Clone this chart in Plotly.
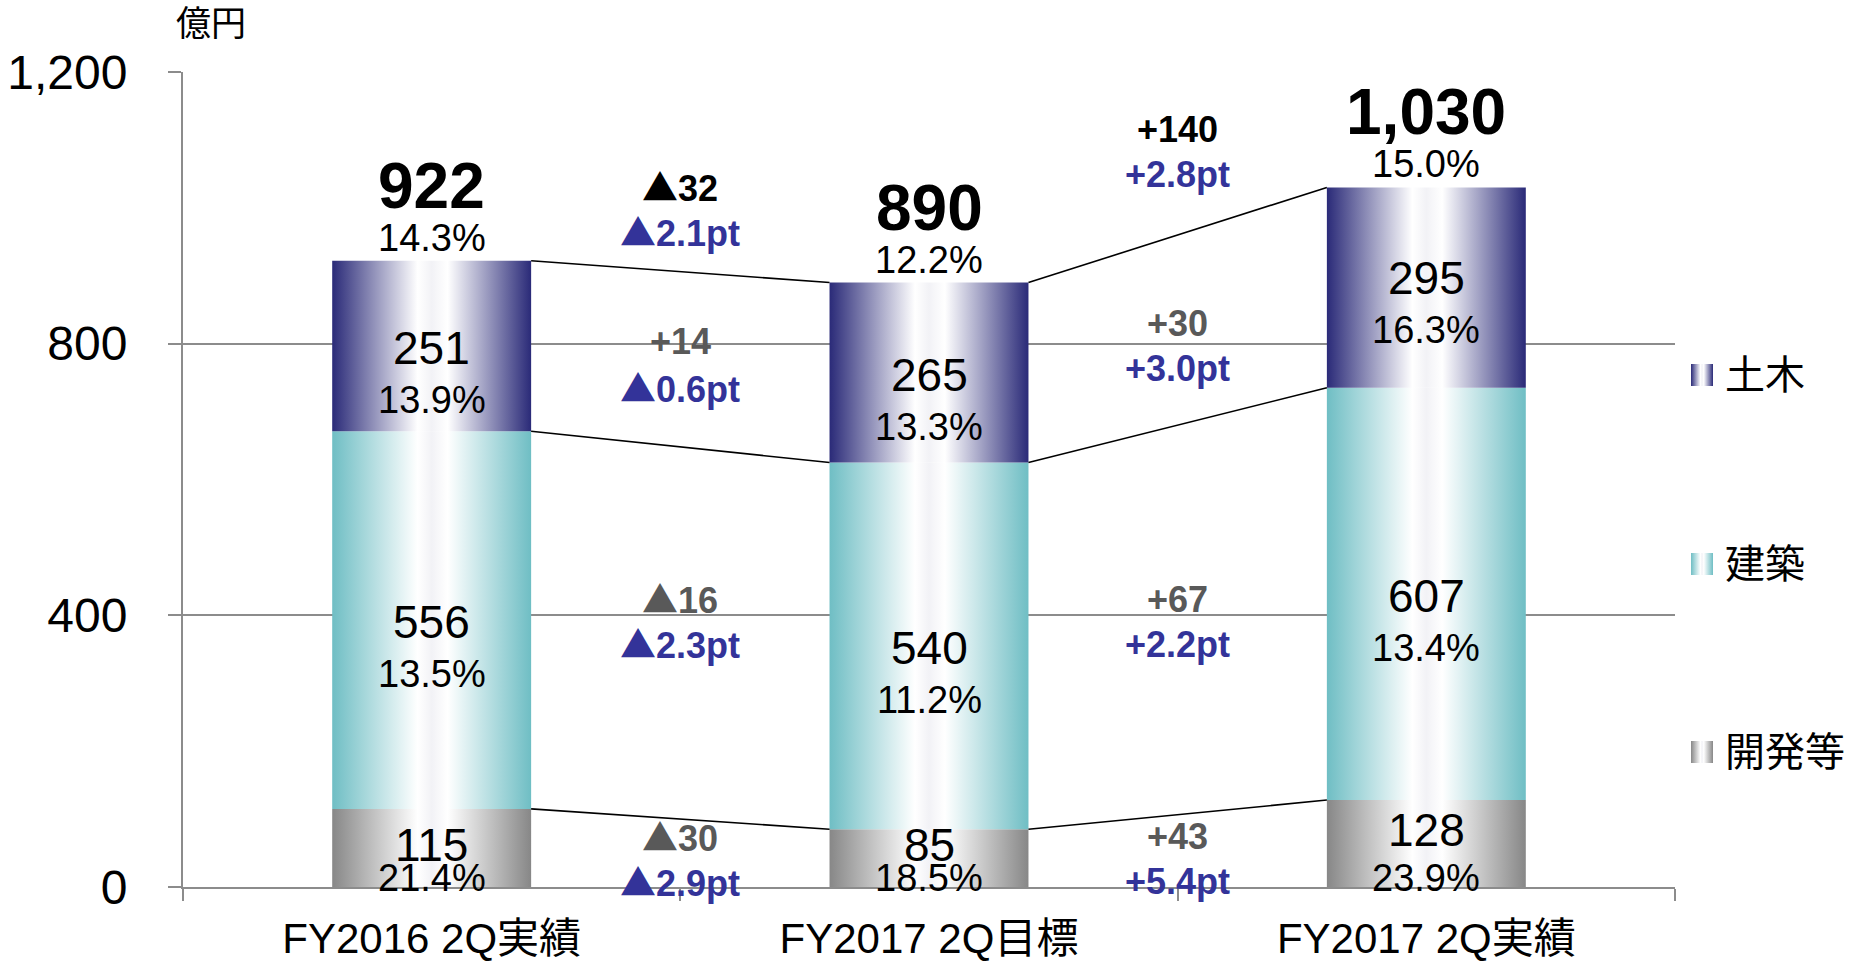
import plotly.graph_objects as go

# ---------------- data ----------------
categories = ["FY2016 2Q実績", "FY2017 2Q目標", "FY2017 2Q実績"]
series_names = ["開発等", "建築", "土木"]          # bottom -> top
kaihatsu = [115, 85, 128]
kenchiku = [556, 540, 607]
doboku = [251, 265, 295]
totals = [922, 890, 1030]
kaihatsu_pct = ["21.4%", "18.5%", "23.9%"]
kenchiku_pct = ["13.5%", "11.2%", "13.4%"]
doboku_pct = ["13.9%", "13.3%", "16.3%"]
total_pct = ["14.3%", "12.2%", "15.0%"]
diff_total = ["▲32", "+140"]
diff_total_pt = ["▲2.1pt", "+2.8pt"]
diff_doboku = ["+14", "+30"]
diff_doboku_pt = ["▲0.6pt", "+3.0pt"]
diff_kenchiku = ["▲16", "+67"]
diff_kenchiku_pt = ["▲2.3pt", "+2.2pt"]
diff_kaihatsu = ["▲30", "+43"]
diff_kaihatsu_pt = ["▲2.9pt", "+5.4pt"]
y_ticks = [0, 400, 800, 1200]
unit_label = "億円"

# ---------------- layout constants ----------------
W, H = 1861, 961
L, R, T, B = 183, 1861, 72, 887
PLOT_RIGHT = 1675
BAR_HALF = 0.2
FONT = "Liberation Sans, Arial, Noto Sans CJK JP, sans-serif"
TRI_FONT = "Noto Sans CJK JP"
GRID = "#8C8C8C"
BLUE = "#333399"
DGRAY = "#595959"
# label nudges (pixels, positive = up)
DIFF_SHIFT = [[18, 14], [36, 20], [18, 7]]     # per series row, per gap
TOTAL_DIFF_SHIFT = [87, 106]
DIFF_GAP = 45
INNER_NUDGE = {(2, 2): 12, (0, 0): -4, (0, 1): 6, (0, 2): 7}


def px_x(p):
    return (p - L) / (R - L)


def px_y(p):
    return (B - p) / (B - T)


def tri(text):
    return text.replace("▲", f"<span style=\"font-family:'{TRI_FONT}'\">▲</span>")


def grad(dark):
    return [[0.0, dark], [0.43, "#FFFFFF"], [0.5, "#F2F2F6"], [0.58, "#FFFFFF"], [1.0, dark]]


series_vals = [kaihatsu, kenchiku, doboku]
series_pcts = [kaihatsu_pct, kenchiku_pct, doboku_pct]
series_dark = ["#878787", "#6FBEC4", "#2A2A78"]
diff_vals = [diff_kaihatsu, diff_kenchiku, diff_doboku]
diff_pts = [diff_kaihatsu_pt, diff_kenchiku_pt, diff_doboku_pt]

fig = go.Figure()
annotations = []

# stacked segments with horizontal gradient
bases = [0, 0, 0]
mids = []
levels = []
for s, vals in enumerate(series_vals):
    smids = []
    for i, v in enumerate(vals):
        b0 = bases[i]
        b1 = b0 + v
        fig.add_trace(go.Scatter(
            x=[i - BAR_HALF, i + BAR_HALF, i + BAR_HALF, i - BAR_HALF, i - BAR_HALF],
            y=[b0, b0, b1, b1, b0],
            mode="lines", fill="toself", line=dict(width=0),
            fillgradient=dict(type="horizontal", colorscale=grad(series_dark[s])),
            hoverinfo="skip", showlegend=False, name=series_names[s]))
        mid = (b0 + b1) / 2
        smids.append(mid)
        nud = INNER_NUDGE.get((s, i), 0)
        if s == 0:
            annotations.append(dict(x=i, y=mid, text=str(v), showarrow=False, yshift=7 + nud,
                                    font=dict(size=46, color="black")))
            annotations.append(dict(x=i, y=0, text=series_pcts[s][i], showarrow=False, yshift=9,
                                    font=dict(size=38, color="black")))
        else:
            annotations.append(dict(x=i, y=mid, text=str(v), showarrow=False, yshift=-2 + nud,
                                    font=dict(size=46, color="black")))
            annotations.append(dict(x=i, y=mid, text=series_pcts[s][i], showarrow=False,
                                    yshift=-54 + nud, font=dict(size=38, color="black")))
        bases[i] = b1
    mids.append(smids)
    levels.append(list(bases))

# connector lines between bars
for lev in levels:
    for g in range(len(categories) - 1):
        fig.add_trace(go.Scatter(
            x=[g + BAR_HALF, g + 1 - BAR_HALF], y=[lev[g], lev[g + 1]],
            mode="lines", line=dict(color="black", width=1.6),
            hoverinfo="skip", showlegend=False))

# totals
for i, tv in enumerate(totals):
    annotations.append(dict(x=i, y=tv, text=f"{tv:,}", showarrow=False, yshift=75,
                            font=dict(size=64, color="black", weight="bold")))
    annotations.append(dict(x=i, y=tv, text=total_pct[i], showarrow=False, yshift=23,
                            font=dict(size=38, color="black")))

# differences between columns
for s in range(3):
    for g in range(2):
        anchor = (mids[s][g] + mids[s][g + 1]) / 2
        ys = DIFF_SHIFT[s][g]
        annotations.append(dict(x=g + 0.5, y=anchor, text=tri(diff_vals[s][g]), showarrow=False,
                                yshift=ys, font=dict(size=36, color=DGRAY, weight="bold")))
        annotations.append(dict(x=g + 0.5, y=anchor, text=tri(diff_pts[s][g]), showarrow=False,
                                yshift=ys - DIFF_GAP, font=dict(size=36, color=BLUE, weight="bold")))
for g in range(2):
    anchor = (totals[g] + totals[g + 1]) / 2
    ys = TOTAL_DIFF_SHIFT[g]
    annotations.append(dict(x=g + 0.5, y=anchor, text=tri(diff_total[g]), showarrow=False,
                            yshift=ys, font=dict(size=36, color="black", weight="bold")))
    annotations.append(dict(x=g + 0.5, y=anchor, text=tri(diff_total_pt[g]), showarrow=False,
                            yshift=ys - DIFF_GAP, font=dict(size=36, color=BLUE, weight="bold")))

# legend (custom, top -> bottom)
legend_centers = [375, 564, 752]
for k, s in enumerate([2, 1, 0]):
    cy = legend_centers[k]
    fig.add_trace(go.Scatter(
        x=[1691, 1713, 1713, 1691, 1691], y=[cy - 11, cy - 11, cy + 11, cy + 11, cy - 11],
        xaxis="x2", yaxis="y2", mode="lines", fill="toself", line=dict(width=0),
        fillgradient=dict(type="horizontal", colorscale=grad(series_dark[s])),
        hoverinfo="skip", showlegend=False))
    annotations.append(dict(xref="paper", yref="paper", x=px_x(1723), y=px_y(cy),
                            xanchor="left", yanchor="middle", text=series_names[s],
                            showarrow=False, font=dict(size=40, color="black")))

annotations.append(dict(xref="paper", yref="paper", x=px_x(174), y=px_y(24),
                        xanchor="left", yanchor="middle", text=unit_label, showarrow=False,
                        font=dict(size=35, color="black")))

fig.update_layout(
    width=W, height=H, autosize=False,
    margin=dict(l=L, r=W - R, t=T, b=H - B, pad=0, autoexpand=False),
    paper_bgcolor="white", plot_bgcolor="white",
    font=dict(family=FONT, color="black"),
    showlegend=False,
    xaxis=dict(domain=[0, px_x(PLOT_RIGHT)], range=[-0.5, 2.5], tickmode="array",
               tickvals=list(range(len(categories))), ticktext=categories, ticks="",
               tickfont=dict(size=42), showline=True, linecolor=GRID, linewidth=2,
               showgrid=False, zeroline=False, ticklabelstandoff=14, automargin=False,
               minor=dict(tickmode="array", tickvals=[-0.5, 0.5, 1.5, 2.5], ticks="outside",
                          ticklen=12, tickwidth=2, tickcolor=GRID, showgrid=False)),
    yaxis=dict(range=[0, 1200], tickmode="array", tickvals=y_ticks, tickformat=",",
               ticks="outside", ticklen=13, tickwidth=2, tickcolor=GRID,
               tickfont=dict(size=48), showline=True, linecolor=GRID, linewidth=2,
               showgrid=True, gridcolor=GRID, gridwidth=2, zeroline=False,
               ticklabelstandoff=31, automargin=False),
    xaxis2=dict(domain=[px_x(1680), 1], range=[1680, 1861], visible=False, anchor="y2",
                automargin=False),
    yaxis2=dict(domain=[0, 1], range=[B, T], visible=False, anchor="x2", automargin=False),
    annotations=annotations,
)

fig.write_html("out.html", config={"displayModeBar": False},
               post_script="document.body.style.margin='0';document.body.style.overflow='hidden';")
